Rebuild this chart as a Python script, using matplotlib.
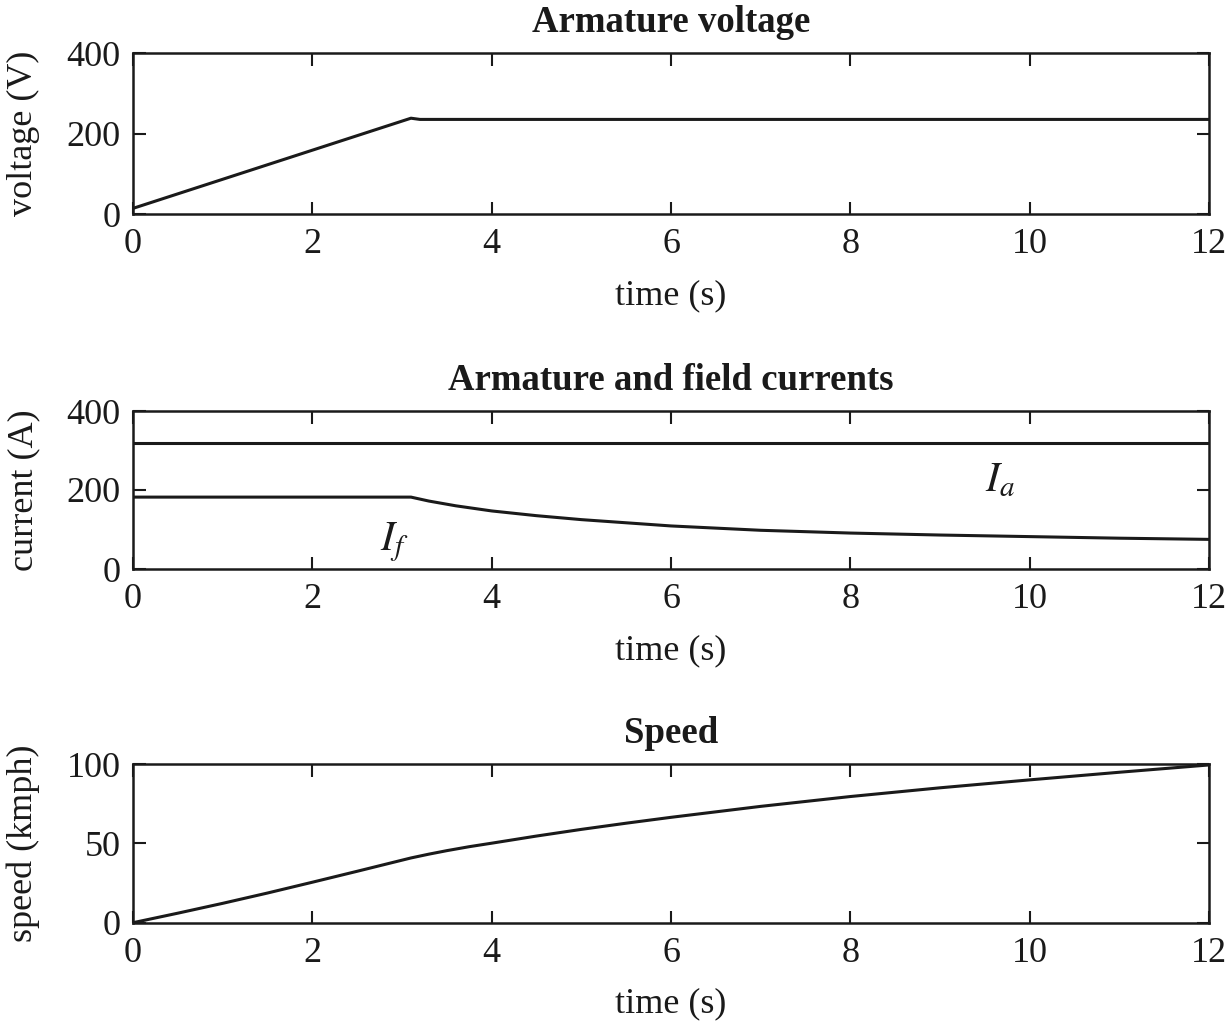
import matplotlib
matplotlib.use("Agg")
import matplotlib.pyplot as plt
import numpy as np

plt.rcParams['font.family'] = ['Liberation Serif', 'DejaVu Serif']
plt.rcParams['mathtext.fontset'] = 'stix'

# ---- data ----
t_volt = [0, 3.1, 3.2, 12]
voltage = [14, 238, 235, 235]

t_ia = [0, 3.1, 12]
i_a = [320, 320, 320]

t_if = [0, 3.1, 3.3, 3.6, 4, 4.5, 5, 6, 7, 8, 9, 10, 11, 12]
i_f = [182, 182, 172, 160, 147, 135, 125, 109, 98, 91, 86, 82, 78, 75]

t_speed = [0, 0.5, 1, 1.5, 2, 2.5, 3.1, 3.3, 3.5, 3.75, 4, 4.5, 5, 5.5, 6, 7, 8, 9, 10, 11, 12]
speed = [0, 6.0, 12.2, 18.7, 25.5, 32.4, 40.8, 43.2, 45.4, 47.9, 50.1, 54.6, 58.8, 62.7, 66.4,
         73.3, 79.5, 85, 90, 94.8, 99.4]

x_ticks = [0, 2, 4, 6, 8, 10, 12]
titles = ["Armature voltage", "Armature and field currents", "Speed"]
ylabels = ["voltage (V)", "current (A)", "speed (kmph)"]
yticks_list = [[0, 200, 400], [0, 200, 400], [0, 50, 100]]
ylims = [(0, 400), (0, 400), (0, 100)]

W, H = 1229, 1021
fig = plt.figure(figsize=(W / 100, H / 100), dpi=100)

left = 133 / W
width = (1209 - 133) / W
boxes = [(53, 214), (411, 569), (764, 922.7)]
axes = []
for (top, bot) in boxes:
    ax = fig.add_axes([left, 1 - bot / H, width, (bot - top) / H])
    axes.append(ax)

col = '#1a1a1a'
lw = 2.2
axes[0].plot(t_volt, voltage, color=col, lw=lw)
axes[1].plot(t_ia, i_a, color=col, lw=lw)
axes[1].plot(t_if, i_f, color=col, lw=lw)
axes[2].plot(t_speed, speed, color=col, lw=lw)

fs = 26
for i, ax in enumerate(axes):
    ax.set_xlim(0, 12)
    ax.set_ylim(*ylims[i])
    ax.set_xticks(x_ticks)
    ax.set_yticks(yticks_list[i])
    ax.tick_params(direction='in', length=9, width=1.5, labelsize=fs,
                   top=True, right=True, colors=col)
    ax.tick_params(axis='x', pad=10)
    ax.tick_params(axis='y', pad=9)
    for s in ax.spines.values():
        s.set_linewidth(1.8)
        s.set_color(col)
    ax.set_title(titles[i], fontsize=26.5, fontweight='bold', pad=15, color=col)
    ax.set_xlabel("time (s)", fontsize=fs, labelpad=13, color=col)
    ax.set_ylabel(ylabels[i], fontsize=fs, color=col)
    ax.yaxis.set_label_coords(-0.086, 0.5)

axes[1].text(2.75, 48, r"$I_f$", fontsize=30, color=col)
axes[1].text(9.5, 197, r"$I_a$", fontsize=30, color=col)

fig.savefig("out.png", dpi=100)
